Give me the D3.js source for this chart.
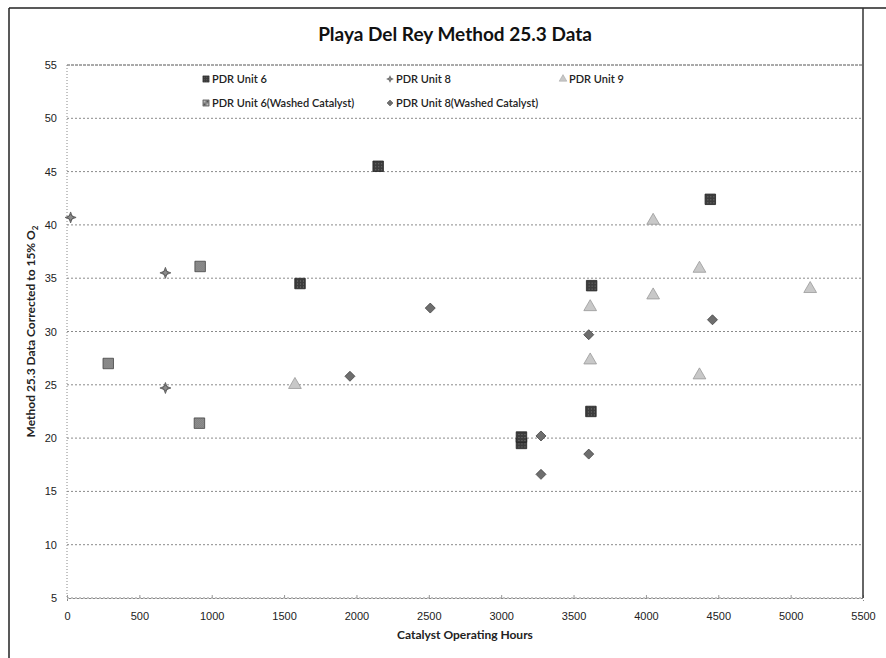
<!DOCTYPE html>
<html>
<head>
<meta charset="utf-8">
<script src="https://cdn.jsdelivr.net/npm/d3@7"></script>
<style>
  body { margin: 0; background: #fff; }
  svg { display: block; font-family: Lato, "Open Sans", sans-serif; }
  .grid line { stroke: #8a8a8a; stroke-dasharray: 2,2; stroke-width: 1; }
  .tick text { fill: #222; font-size: 11px; }
</style>
</head>
<body>
<svg id="chart"></svg>
<script>
// series data: [hours, value]
var unit6 = [[1610, 34.5], [2150, 45.5], [3140, 19.5], [3140, 20.1], [3625, 34.3], [3620, 22.5], [4445, 42.4]];
var unit8 = [[25, 40.7], [680, 35.5], [680, 24.7]];
var unit9 = [[1575, 25.0], [3615, 32.3], [3615, 27.3], [4050, 40.4], [4050, 33.4], [4370, 35.9], [4370, 25.9], [5135, 34.0]];
var unit6Washed = [[285, 27.0], [920, 36.1], [915, 21.4]];
var unit8Washed = [[1955, 25.8], [2510, 32.2], [3275, 20.2], [3275, 16.6], [3605, 18.5], [3605, 29.7], [4460, 31.1]];
var xTicks = [0, 500, 1000, 1500, 2000, 2500, 3000, 3500, 4000, 4500, 5000, 5500];
var yTicks = [5, 10, 15, 20, 25, 30, 35, 40, 45, 50, 55];

var W = 886, H = 658;
var margin = { top: 65, right: 23, bottom: 60, left: 67 };
var width = W - margin.left - margin.right,
    height = H - margin.top - margin.bottom;

var svg = d3.select("#chart").attr("width", W).attr("height", H);

// textures for the scanned-looking markers
var defs = svg.append("defs");
var p1 = defs.append("pattern").attr("id", "darkTex").attr("width", 3).attr("height", 3)
  .attr("patternUnits", "userSpaceOnUse");
p1.append("rect").attr("width", 3).attr("height", 3).attr("fill", "#3c3c3c");
p1.append("rect").attr("width", 1).attr("height", 1).attr("fill", "#777");
var p2 = defs.append("pattern").attr("id", "washTex").attr("width", 2).attr("height", 2)
  .attr("patternUnits", "userSpaceOnUse");
p2.append("rect").attr("width", 2).attr("height", 2).attr("fill", "#555");
p2.append("rect").attr("width", 1).attr("height", 1).attr("fill", "#bbb");
p2.append("rect").attr("x", 1).attr("y", 1).attr("width", 1).attr("height", 1).attr("fill", "#bbb");

// outer chart frame
svg.append("line").attr("x1", 9).attr("x2", 9).attr("y1", 8).attr("y2", H).attr("stroke", "#222").attr("stroke-width", 1.5);
svg.append("line").attr("x1", 9).attr("x2", W).attr("y1", 8).attr("y2", 8).attr("stroke", "#222").attr("stroke-width", 1.5);

var g = svg.append("g").attr("transform", "translate(" + margin.left + "," + margin.top + ")");

var x = d3.scaleLinear().domain([0, 5500]).range([0, width]);
var y = d3.scaleLinear().domain([5, 55]).range([height, 0]);

// horizontal grid
g.append("g").attr("class", "grid")
  .selectAll("line").data(yTicks).enter().append("line")
  .attr("x1", 0).attr("x2", width)
  .attr("y1", function (d) { return y(d); }).attr("y2", function (d) { return y(d); })
  .style("stroke", function (d) { return d === 55 ? "#555" : null; })
  .style("stroke-dasharray", function (d) { return d === 55 ? "3,1" : null; });

// left axis (dotted) and right border
g.append("line").attr("x1", 0).attr("x2", 0).attr("y1", 0).attr("y2", height)
  .attr("stroke", "#888").attr("stroke-dasharray", "1,2");
svg.append("line").attr("x1", margin.left + width).attr("x2", margin.left + width)
  .attr("y1", 8).attr("y2", margin.top + height).attr("stroke", "#333").attr("stroke-width", 1.5);

var yAxis = g.append("g")
  .call(d3.axisLeft(y).tickValues(yTicks).tickSize(0).tickPadding(10));
yAxis.select(".domain").remove();

var xAxis = g.append("g")
  .attr("transform", "translate(0," + height + ")")
  .call(d3.axisBottom(x).tickValues(xTicks).tickFormat(d3.format("d")).tickSize(3).tickPadding(9));
xAxis.select(".domain").attr("stroke", "#888").attr("stroke-dasharray", "2,2");
xAxis.selectAll(".tick line").attr("stroke", "#999").attr("transform", "translate(0,-3)");
xAxis.selectAll(".tick text").attr("dy", "0.9em");

// marker shapes
var sq = d3.symbol().type(d3.symbolSquare).size(110)();
var dia = "M0,-5L5,0L0,5L-5,0Z";
var star = "M0,-5.5L1.5,-1.5L5.5,0L1.5,1.5L0,5.5L-1.5,1.5L-5.5,0L-1.5,-1.5Z M0,-3L3,0L0,3L-3,0Z";
var tri = d3.symbol().type(d3.symbolTriangle).size(70)();

var series = [
  { name: "PDR Unit 6", data: unit6, path: sq, fill: "url(#darkTex)", stroke: "#222", lx: 206, ly: 79 },
  { name: "PDR Unit 8", data: unit8, path: star, fill: "#8a8a8a", stroke: "#555", lx: 390, ly: 79 },
  { name: "PDR Unit 9", data: unit9, path: tri, fill: "#c8c8c8", stroke: "#999", lx: 563, ly: 79 },
  { name: "PDR Unit 6(Washed Catalyst)", data: unit6Washed, path: sq, fill: "url(#washTex)", stroke: "#444", lx: 206, ly: 103 },
  { name: "PDR Unit 8(Washed Catalyst)", data: unit8Washed, path: dia, fill: "#6e6e6e", stroke: "#444", lx: 390, ly: 103 }
];

series.forEach(function (s) {
  g.append("g").selectAll("path").data(s.data).enter().append("path")
    .attr("d", s.path)
    .attr("transform", function (d) { return "translate(" + x(d[0]) + "," + y(d[1]) + ")"; })
    .attr("fill", s.fill).attr("stroke", s.stroke).attr("stroke-width", 0.8);

  var lg = svg.append("g").attr("transform", "translate(" + s.lx + "," + s.ly + ")");
  lg.append("path").attr("d", s.path).attr("fill", s.fill).attr("stroke", s.stroke)
    .attr("stroke-width", 0.8).attr("transform", "scale(0.6)");
  lg.append("text").attr("x", 6).attr("dy", "0.35em")
    .attr("font-size", 11).attr("font-weight", 600).attr("fill", "#222").text(s.name);
});

// titles
svg.append("text").attr("x", 455).attr("y", 41).attr("text-anchor", "middle")
  .attr("font-size", 19).attr("font-weight", 700).attr("fill", "#111")
  .text("Playa Del Rey Method 25.3 Data");

svg.append("text").attr("x", margin.left + width / 2).attr("y", 639).attr("text-anchor", "middle")
  .attr("font-size", 12).attr("font-weight", 700).attr("fill", "#222")
  .text("Catalyst Operating Hours");

var yt = svg.append("text").attr("transform", "translate(35," + (margin.top + height / 2) + ") rotate(-90)")
  .attr("text-anchor", "middle").attr("font-size", 12).attr("font-weight", 700).attr("fill", "#222");
yt.append("tspan").text("Method 25.3 Data Corrected to 15% O");
yt.append("tspan").attr("font-size", 8).attr("dy", 3).text("2");
</script>
</body>
</html>
